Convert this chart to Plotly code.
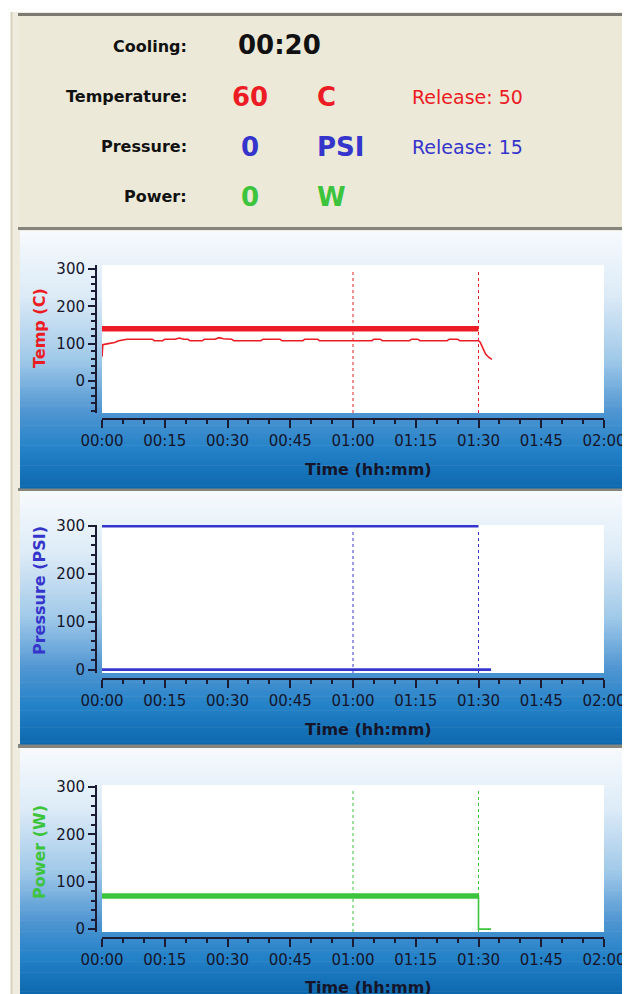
import plotly.graph_objects as go

W, H = 630, 994
OFF = 8  # page body margin of the html page

# ---------------- data ----------------
time_tick_vals = [0, 15, 30, 45, 60, 75, 90, 105, 120]
time_tick_text = ["00:00", "00:15", "00:30", "00:45", "01:00", "01:15", "01:30", "01:45", "02:00"]
y_tick_vals = [0, 100, 200, 300]
marker_times = [60, 90]  # minutes (dotted markers)

temp_set_time = [0, 90]
temp_set_values = [140, 140]
temp_time = [0, 0.2, 1.5, 3, 4, 6, 12, 12.5, 14.5, 15, 17.5, 18.5, 19.5, 20.5, 21, 24, 24.5, 27, 28, 29, 31,
             31.5, 38, 38.5, 42.5, 43, 48, 48.5, 51.5, 52, 57, 64.5, 65, 66.5, 67, 73.5, 74, 75.5, 76, 82.5,
             83, 85, 85.5, 90, 90.4, 91, 91.7, 92.5, 93.2]
temp_values = [65, 97, 100, 103, 108, 112, 112, 108, 108, 112, 112, 115, 112, 112, 108, 108, 112, 112, 116, 113, 112,
               108, 108, 112, 112, 108, 108, 112, 112, 108, 108, 108, 112, 112, 108, 108, 112, 112, 108, 108,
               112, 112, 108, 108, 104, 88, 72, 63, 58]

pressure_set_time = [0, 90]
pressure_set_values = [300, 300]
pressure_time = [0, 93]
pressure_values = [0, 0]

power_set_time = [0, 90]
power_set_values = [70, 70]
power_time = [0, 90, 90, 93]
power_values = [70, 70, 0, 0]

status_labels = ["Cooling:", "Temperature:", "Pressure:", "Power:"]
cooling_time = "00:20"
current_values = ["60", "0", "0"]
unit_labels = ["C", "PSI", "W"]
release_labels = ["Release: 50", "Release: 15"]
axis_titles = ["Temp (C)", "Pressure (PSI)", "Power (W)"]
x_title = "Time (hh:mm)"

# ---------------- styles ----------------
FONT = "DejaVu Sans"
RED, BLUE, GREEN = "#EC1C24", "#3535CC", "#3CC43C"
AXC = "#1B1B33"
TXT = "#15152A"


def px(x):
    return (x - OFF) / W


def py(y):
    return 1 - (y - OFF) / H


charts = [
    dict(top=265, bottom=413, axis_y=419, yr=[-86, 311], panel=(231, 488), color=RED,
         ty=328, xl=469),
    dict(top=525, bottom=673, axis_y=679, yr=[-7, 302], panel=(491, 744), color=BLUE,
         ty=591, xl=729),
    dict(top=785, bottom=932, axis_y=938, yr=[-6, 304], panel=(748, 994), color=GREEN,
         ty=852, xl=987),
]

shapes = []


def rect(x0, y0, x1, y1, color):
    shapes.append(dict(type="rect", xref="paper", yref="paper", x0=px(x0), x1=px(x1),
                       y0=py(y1), y1=py(y0), fillcolor=color, line=dict(width=0), layer="below"))


R = 645
BOT = 1010
# frame
rect(10, 12, R, BOT, "#EFECDF")
rect(11, 12, 12.5, BOT, "#D3CFBF")
rect(18, 13, R, 16, "#7A7A72")
rect(18, 16, R, 227, "#ECE9D8")
rect(18, 227, R, 230, "#85857D")
rect(18, 488, R, 491, "#85857D")
rect(18, 744, R, 748, "#85857D")

stops = [(0.0, (247, 250, 253)), (0.25, (220, 235, 247)), (0.5, (160, 201, 233)),
         (0.7, (80, 150, 210)), (0.85, (36, 130, 200)), (1.0, (14, 104, 174))]


def grad(t):
    t = max(0.0, min(1.0, t))
    for (a, ca), (b, cb) in zip(stops[:-1], stops[1:]):
        if a <= t <= b:
            f = (t - a) / (b - a)
            c = [round(ca[k] + (cb[k] - ca[k]) * f) for k in range(3)]
            return "rgb(%d,%d,%d)" % tuple(c)
    return "rgb(%d,%d,%d)" % stops[-1][1]


N = 90
for c in charts:
    t0, t1 = c["panel"]
    h = (t1 - t0) / N
    for k in range(N):
        y0 = t0 + k * h
        y1 = t0 + (k + 1) * h + 0.6
        if t1 == 994 and k == N - 1:
            y1 = BOT
        rect(20, y0, R, y1, grad((k + 0.5) / N))

layout = dict(width=W, height=H, margin=dict(l=0, r=0, t=0, b=0, pad=0, autoexpand=False), autosize=False,
              paper_bgcolor="#FDFDFB", plot_bgcolor="white", showlegend=False,
              font=dict(family=FONT, color=TXT))

fig = go.Figure()
annotations = []

series = [
    [(temp_set_time, temp_set_values, 5.5), (temp_time, temp_values, 1.6)],
    [(pressure_set_time, pressure_set_values, 3.2), (pressure_time, pressure_values, 2.8)],
    [(power_set_time, power_set_values, 5.5), (power_time, power_values, 1.6)],
]

for i, c in enumerate(charts, start=1):
    sx = "" if i == 1 else str(i)
    xref, yref = "x" + sx, "y" + sx
    layout["xaxis" + sx] = dict(
        domain=[px(102), px(604)], anchor="free", position=py(c["axis_y"]), range=[0, 120],
        automargin=False,
        tickmode="array", tickvals=time_tick_vals, ticktext=time_tick_text,
        ticks="outside", ticklen=8, tickwidth=2, tickcolor=AXC,
        showline=True, linecolor=AXC, linewidth=2, showgrid=False, zeroline=False,
        tickfont=dict(family=FONT, size=15, color=TXT),
        minor=dict(tickmode="linear", tick0=0, dtick=5, ticks="outside", ticklen=4,
                   tickwidth=1.5, tickcolor=AXC, showgrid=False),
        fixedrange=True)
    layout["yaxis" + sx] = dict(
        domain=[py(c["bottom"]), py(c["top"])], anchor="free", position=px(96), range=c["yr"],
        automargin=False,
        tickmode="array", tickvals=y_tick_vals,
        ticks="outside", ticklen=7, tickwidth=2, tickcolor=AXC,
        showline=True, linecolor=AXC, linewidth=2, showgrid=False, zeroline=False,
        tickfont=dict(family=FONT, size=15, color=TXT),
        minor=dict(tickmode="linear", tick0=0, dtick=20, ticks="outside", ticklen=4,
                   tickwidth=1.5, tickcolor=AXC, showgrid=False),
        fixedrange=True)
    # white plot area
    shapes.append(dict(type="rect", xref=xref + " domain", yref=yref + " domain", x0=0, x1=1, y0=0, y1=1,
                       fillcolor="white", line=dict(width=0), layer="below"))
    for mt in marker_times:
        shapes.append(dict(type="line", xref=xref, yref=yref + " domain", x0=mt, x1=mt, y0=0, y1=0.97,
                           line=dict(color=c["color"], width=1, dash="dot"), layer="below"))
    for xs, ys, wdt in series[i - 1]:
        fig.add_trace(go.Scatter(x=xs, y=ys, mode="lines", xaxis=xref, yaxis=yref,
                                 line=dict(color=c["color"], width=wdt), hoverinfo="skip"))
    annotations.append(dict(text="<b>%s</b>" % axis_titles[i - 1], xref="paper", yref="paper",
                            x=px(39), y=py(c["ty"]), textangle=-90, showarrow=False,
                            xanchor="center", yanchor="middle",
                            font=dict(family=FONT, size=16, color=c["color"])))
    annotations.append(dict(text="<b>%s</b>" % x_title, xref="paper", yref="paper",
                            x=px(368), y=py(c["xl"]), showarrow=False,
                            xanchor="center", yanchor="middle",
                            font=dict(family=FONT, size=16, color=TXT)))

# ---------------- status panel ----------------
row_y = [46, 97, 147, 197]
for lab, yy in zip(status_labels, row_y):
    annotations.append(dict(text="<b>%s</b>" % lab, xref="paper", yref="paper", x=px(189), y=py(yy),
                            xanchor="right", yanchor="middle", showarrow=False,
                            font=dict(family=FONT, size=16, color="#111111")))
annotations.append(dict(text="<b>%s</b>" % cooling_time, xref="paper", yref="paper", x=px(236), y=py(45),
                        xanchor="left", yanchor="middle", showarrow=False,
                        font=dict(family=FONT, size=26, color="#111111")))
row_colors = [RED, BLUE, GREEN]
for val, unit, col, yy in zip(current_values, unit_labels, row_colors, row_y[1:]):
    annotations.append(dict(text="<b>%s</b>" % val, xref="paper", yref="paper", x=px(250), y=py(yy),
                            xanchor="center", yanchor="middle", showarrow=False,
                            font=dict(family=FONT, size=26, color=col)))
    annotations.append(dict(text="<b>%s</b>" % unit, xref="paper", yref="paper", x=px(315), y=py(yy),
                            xanchor="left", yanchor="middle", showarrow=False,
                            font=dict(family=FONT, size=26, color=col)))
for rl, col, yy in zip(release_labels, row_colors[:2], row_y[1:3]):
    annotations.append(dict(text=rl, xref="paper", yref="paper", x=px(410), y=py(yy),
                            xanchor="left", yanchor="middle", showarrow=False,
                            font=dict(family=FONT, size=19, color=col)))

layout["shapes"] = shapes
layout["annotations"] = annotations
fig.update_layout(**layout)
fig.write_html("out.html")
